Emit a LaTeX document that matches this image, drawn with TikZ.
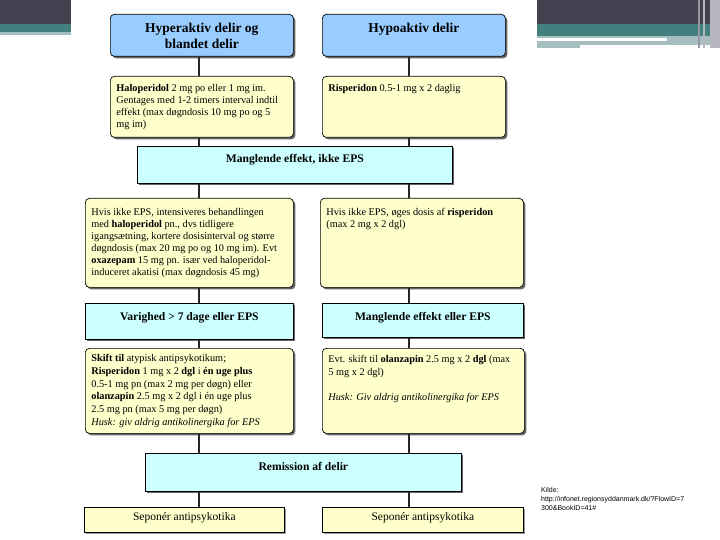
\documentclass[tikz,border=0pt]{standalone}
\usepackage{fontspec}
\setmainfont{Liberation Serif}
\newfontfamily\srcfont{Liberation Sans}
\usetikzlibrary{shadows}
\definecolor{boxblue}{RGB}{153,204,255}
\definecolor{boxyel}{RGB}{255,255,204}
\definecolor{boxcyan}{RGB}{204,255,255}
\definecolor{bardark}{RGB}{66,65,80}
\definecolor{barteal}{RGB}{66,128,128}
\definecolor{barlight}{RGB}{166,190,192}
\definecolor{barstripe}{RGB}{150,150,162}
\definecolor{barpale}{RGB}{184,182,192}
% #1 width, #2 height, #3 top gap, #4 baselineskip, #5 text
\newcommand{\lefttext}[5]{\parbox[c][#2][t]{#1}{\vspace*{#3}\fontsize{10.3}{#4}\selectfont\leftskip=6pt\rightskip=0pt plus 1fil\parfillskip=0pt plus 1fil\noindent #5\par}}
% #1 width, #2 height, #3 top gap, #4 font setup, #5 text
\newcommand{\midtext}[5]{\parbox[c][#2][t]{#1}{\vspace*{#3}#4\centering #5\par}}
\tikzset{
  base/.style={draw=black, line width=0.7pt, inner sep=0pt, anchor=north west,
    drop shadow={shadow xshift=2pt, shadow yshift=-2pt, fill=black!60, opacity=1}},
  bluebox/.style={base, fill=boxblue, rounded corners=4pt},
  yelbox/.style={base, fill=boxyel, rounded corners=4pt},
  cyanbox/.style={base, fill=boxcyan},
  sepbox/.style={draw=black, line width=0.7pt, inner sep=0pt, anchor=north west, fill=boxyel,
    drop shadow={shadow xshift=1.5pt, shadow yshift=-1.5pt, fill=black!40, opacity=1}},
  link/.style={draw=black!85, line width=1.6pt},
}
\newcommand{\titlefont}{\fontsize{13.5}{16.5}\selectfont\bfseries}
\newcommand{\headfont}{\fontsize{11.6}{13.5}\selectfont\bfseries}
\newcommand{\plainfont}{\fontsize{11.5}{13}\selectfont}
\begin{document}
\begin{tikzpicture}[x=1pt,y=-1pt]
\useasboundingbox (0,0) rectangle (720,540);
\fill[white] (0,0) rectangle (720,540);
% decorative bars, top left
\fill[bardark] (0,0) rectangle (71,24);
\fill[barteal] (0,24) rectangle (71,32);
\fill[barlight] (0,32) rectangle (71,35);
% decorative bars, top right
\fill[bardark] (537,0) rectangle (720,24);
\fill[barteal] (537,24) rectangle (720,36);
\fill[barlight] (537,36) rectangle (720,45);
\fill[white] (537,38) rectangle (667,41.5);
\fill[barlight] (537,45) rectangle (580,48);
\fill[barstripe] (698,0) rectangle (700,48);
\fill[barstripe!70] (703,0) rectangle (705,48);
\fill[barpale] (710,0) rectangle (720,48);

\coordinate (lx) at (199,0);
\coordinate (rx) at (409,0);

% row 0
\node[bluebox] (hyper) at (110,14) {\midtext{183pt}{42pt}{8.5pt}{\titlefont}{Hyperaktiv delir og\\ blandet delir}};
\node[bluebox] (hypo) at (322,14) {\midtext{183pt}{42pt}{8.5pt}{\titlefont}{Hypoaktiv delir}};
% row 1
\node[yelbox] (y1l) at (110,76) {\lefttext{183pt}{61pt}{8.5pt}{11.7}{\textbf{Haloperidol} 2 mg po eller 1 mg im.\\ Gentages med 1-2 timers interval indtil\\ effekt (max døgndosis 10 mg po og 5\\ mg im)}};
\node[yelbox] (y1r) at (322,76) {\lefttext{183pt}{61pt}{8.5pt}{11.7}{\textbf{Risperidon} 0.5-1 mg x 2 daglig}};
% cyan 1
\node[cyanbox] (c1) at (137,146) {\midtext{315pt}{37pt}{8pt}{\headfont}{Manglende effekt, ikke EPS}};
% row 2
\node[yelbox] (y2l) at (85,198) {\lefttext{208pt}{89pt}{10pt}{12}{Hvis ikke EPS, intensiveres behandlingen\\ med \textbf{haloperidol} pn., dvs tidligere\\ igangsætning, kortere dosisinterval og større\\ døgndosis (max 20 mg po og 10 mg im). Evt\\ \textbf{oxazepam} 15 mg pn. især ved haloperidol-\\ induceret akatisi (max døgndosis 45 mg)}};
\node[yelbox] (y2r) at (320,198) {\lefttext{203pt}{89pt}{10pt}{12}{Hvis ikke EPS, øges dosis af \textbf{risperidon}\\ (max 2 mg x 2 dgl)}};
% cyan 2
\node[cyanbox] (c2l) at (85,303) {\midtext{208pt}{36pt}{9pt}{\headfont}{Varighed > 7 dage eller EPS}};
\node[cyanbox] (c2r) at (322,303) {\midtext{201pt}{34pt}{8.5pt}{\headfont}{Manglende effekt eller EPS}};
% row 3
\node[yelbox] (y3l) at (85,348) {\lefttext{208pt}{85pt}{6pt}{12.7}{\textbf{Skift til} atypisk antipsykotikum;\\ \textbf{Risperidon} 1 mg x 2 \textbf{dgl} i \textbf{én uge plus}\\ 0.5-1 mg pn (max 2 mg per døgn) eller\\ \textbf{olanzapin} 2.5 mg x 2 dgl i én uge plus\\ 2.5 mg pn (max 5 mg per døgn)\\ \textit{Husk: giv aldrig antikolinergika for EPS}}};
\node[yelbox] (y3r) at (322,348) {\lefttext{202pt}{85pt}{7pt}{12.7}{Evt. skift til \textbf{olanzapin} 2.5 mg x 2 \textbf{dgl} (max\\ 5 mg x 2 dgl)\\[12.7pt] \textit{Husk: Giv aldrig antikolinergika for EPS}}};
% remission
\node[cyanbox] (rem) at (145,453) {\midtext{316pt}{38pt}{8.5pt}{\headfont}{Remission af delir}};
% bottom
\node[sepbox] (sl) at (84,507) {\midtext{200pt}{25pt}{5.5pt}{\plainfont}{Seponér antipsykotika}};
\node[sepbox] (sr) at (322,507) {\midtext{201pt}{25pt}{5.5pt}{\plainfont}{Seponér antipsykotika}};

% connectors, left column
\draw[link] (hyper.south -| lx) -- (y1l.north -| lx);
\draw[link] (y1l.south -| lx) -- (c1.north -| lx);
\draw[link] (c1.south -| lx) -- (y2l.north -| lx);
\draw[link] (y2l.south -| lx) -- (c2l.north -| lx);
\draw[link] (c2l.south -| lx) -- (y3l.north -| lx);
\draw[link] (y3l.south -| lx) -- (rem.north -| lx);
\draw[link] (rem.south -| lx) -- (sl.north -| lx);
% connectors, right column
\draw[link] (hypo.south -| rx) -- (y1r.north -| rx);
\draw[link] (y1r.south -| rx) -- (c1.north -| rx);
\draw[link] (c1.south -| rx) -- (y2r.north -| rx);
\draw[link] (y2r.south -| rx) -- (c2r.north -| rx);
\draw[link] (c2r.south -| rx) -- (y3r.north -| rx);
\draw[link] (y3r.south -| rx) -- (rem.north -| rx);
\draw[link] (rem.south -| rx) -- (sr.north -| rx);

% source
\node[anchor=north west, inner sep=0pt, align=left, font=\srcfont\fontsize{7}{9.3}\selectfont] (src) at (541,487) {Kilde:\\ http://infonet.regionsyddanmark.dk/?FlowID=7\\ 300\&BookID=41\#};
\end{tikzpicture}
\end{document}
